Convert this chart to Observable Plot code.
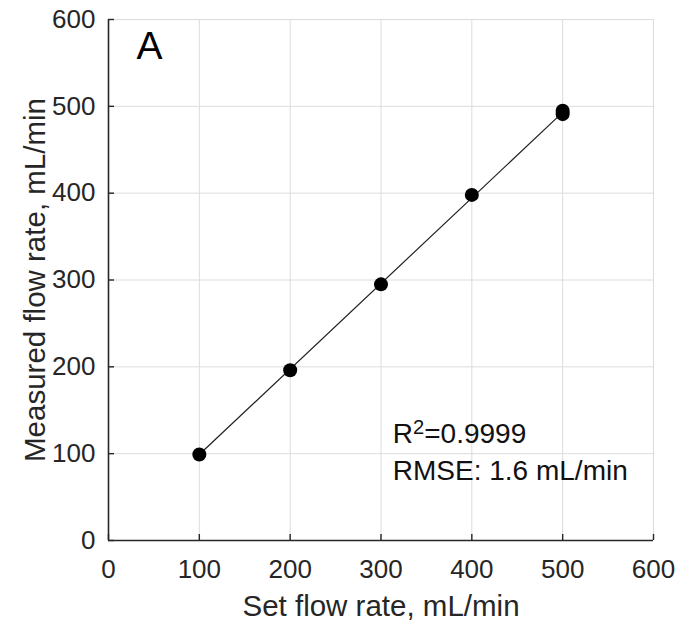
<!DOCTYPE html>
<html>
<head>
<meta charset="utf-8">
<script src="https://cdn.jsdelivr.net/npm/d3@7"></script>
<script src="https://cdn.jsdelivr.net/npm/@observablehq/plot@0.6"></script>
<style>
  html, body { margin: 0; padding: 0; background: #fff; }
  #chart svg { display: block; }
</style>
</head>
<body>
<div id="chart"></div>
<script>
const setFlow = [100, 200, 300, 400, 500, 500];
const measuredFlow = [99, 196, 295, 398, 491, 495];
const fitX = [100, 500];
const fitY = [99, 493];
const ticks = [0, 100, 200, 300, 400, 500, 600];
const gridTicks = [100, 200, 300, 400, 500, 600];
const panelLabel = "A";
const statLines = ["R²=0.9999", "RMSE: 1.6 mL/min"];
const statY = [123, 79.5];
const statX = 313;

const points = setFlow.map((x, i) => ({x, y: measuredFlow[i]}));
const fit = fitX.map((x, i) => ({x, y: fitY[i]}));
const stats = statLines.map((t, i) => ({t, y: statY[i]}));

const ink = "#262626";
const font = "Liberation Sans, Arial, Helvetica, sans-serif";

const chart = Plot.plot({
  width: 681,
  height: 629,
  marginLeft: 108,
  marginRight: 28,
  marginTop: 19,
  marginBottom: 89,
  style: {fontFamily: font, color: ink, background: "#fff"},
  x: {domain: [0, 600]},
  y: {domain: [0, 600]},
  marks: [
    Plot.gridX(gridTicks, {stroke: "#dcdcdc", strokeOpacity: 1, strokeWidth: 1}),
    Plot.gridY(gridTicks, {stroke: "#dcdcdc", strokeOpacity: 1, strokeWidth: 1}),
    Plot.axisX(ticks, {tickSize: -6, tickPadding: 25, fontSize: 26, stroke: ink, fill: ink, strokeWidth: 1.4, label: null}),
    Plot.axisY(ticks, {tickSize: -6, tickPadding: 19, fontSize: 26, stroke: ink, fill: ink, strokeWidth: 1.4, label: null}),
    Plot.ruleX([0], {stroke: ink, strokeWidth: 1.6}),
    Plot.ruleY([0], {stroke: ink, strokeWidth: 1.6}),
    Plot.line(fit, {x: "x", y: "y", stroke: "#222", strokeWidth: 1.2}),
    Plot.dot(points, {x: "x", y: "y", r: 7, fill: "#000", stroke: "none"}),
    Plot.text([panelLabel], {frameAnchor: "top-left", dx: 28, dy: 12, text: d => d, fontSize: 39, fill: "#000", textAnchor: "start", lineAnchor: "top"}),
    Plot.text(stats, {x: statX, y: "y", text: "t", fontSize: 28, fill: "#111", textAnchor: "start"}),
    Plot.text(["Set flow rate, mL/min"], {frameAnchor: "bottom", dy: 66, text: d => d, fontSize: 29.5, fill: ink, textAnchor: "middle", lineAnchor: "middle"}),
    Plot.text(["Measured flow rate, mL/min"], {frameAnchor: "left", dx: -73, rotate: -90, text: d => d, fontSize: 29.5, fill: ink, textAnchor: "middle", lineAnchor: "middle"})
  ]
});
document.getElementById("chart").appendChild(chart);

// Render the R² label with a true superscript
d3.select(chart).selectAll("text").each(function() {
  const t = this.textContent;
  if (t.startsWith("R²")) {
    const el = d3.select(this);
    el.text(null);
    el.append("tspan").text("R");
    el.append("tspan").attr("dy", "-0.42em").attr("font-size", "0.72em").text("2");
    el.append("tspan").attr("dy", "0.30em").text(t.slice(2));
  }
});
</script>
</body>
</html>
